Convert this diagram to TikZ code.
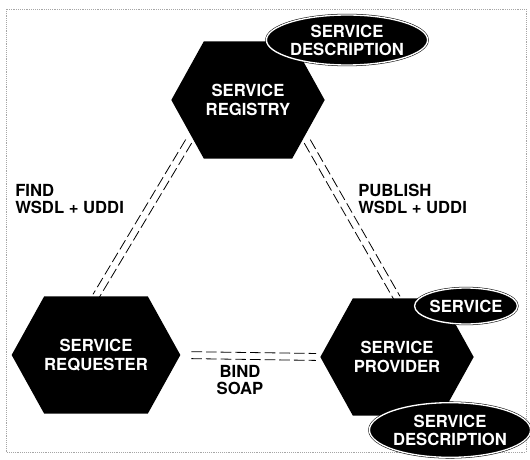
\documentclass[tikz,border=0pt]{standalone}
\usepackage{fontspec}
\setmainfont{TeX Gyre Heros}
\usetikzlibrary{shapes.symbols, shapes.geometric, positioning, calc}

% two parallel dashed lines between two points
\newcommand\twinlink[3][]{%
  \draw[link, #1] ($(#2)!2.6pt!90:(#3)$) -- ($(#3)!2.6pt!-90:(#2)$);
  \draw[link, #1] ($(#2)!2.6pt!-90:(#3)$) -- ($(#3)!2.6pt!90:(#2)$);}

\begin{document}
\begin{tikzpicture}[x=0.75pt, y=-0.75pt,
    hexa/.style={signal, signal to=east and west, signal from=nowhere, signal pointer angle=122,
      fill=black, text=white, font=\fontsize{12.5}{14}\selectfont\bfseries,
      align=center, minimum width=115pt, minimum height=88pt, inner sep=0pt},
    descr/.style={ellipse, fill=black, draw=black, line width=0.4pt, double=white, double distance=1pt,
      text=white, font=\fontsize{12.5}{13.5}\selectfont\bfseries, align=center, inner sep=0pt},
    link/.style={dash pattern=on 8pt off 3pt, line width=0.6pt},
    tag/.style={font=\fontsize{12.5}{13}\selectfont\bfseries, inner sep=0pt}]
  \useasboundingbox (0,0) rectangle (530,459);
  \draw[densely dotted, gray!70] (6,9) rectangle (526,452);

  % the three parties
  \node[hexa] (registry) at (248,100) {SERVICE\\REGISTRY};
  \node[hexa] (requester) at (96,355) {SERVICE\\REQUESTER};
  \node[hexa] (provider) at (397,357) {SERVICE\\PROVIDER};

  % links between them
  \twinlink[shorten <=4pt]{registry.-147}{requester.north}
  \twinlink[shorten <=4pt]{registry.-33}{provider.north}
  \twinlink[shorten <=8pt, shorten >=3pt]{requester.east}{provider.west}

  \node[descr, minimum width=108pt, minimum height=37.5pt] (regdesc) at (347,40) {SERVICE\\DESCRIPTION};
  \node[descr, minimum width=73pt, minimum height=27pt] (service) at (466,306) {SERVICE};
  \node[descr, minimum width=109pt, minimum height=41pt] (provdesc) at (450,430) {SERVICE\\DESCRIPTION};

  \node[tag, anchor=west, align=left] (find) at (15,199) {FIND\\WSDL + UDDI};
  \node[tag, anchor=west, align=left] (publish) at (358,199) {PUBLISH\\WSDL + UDDI};
  \node[tag, align=center] (bind) at (240,380) {BIND\\SOAP};
\end{tikzpicture}
\end{document}
